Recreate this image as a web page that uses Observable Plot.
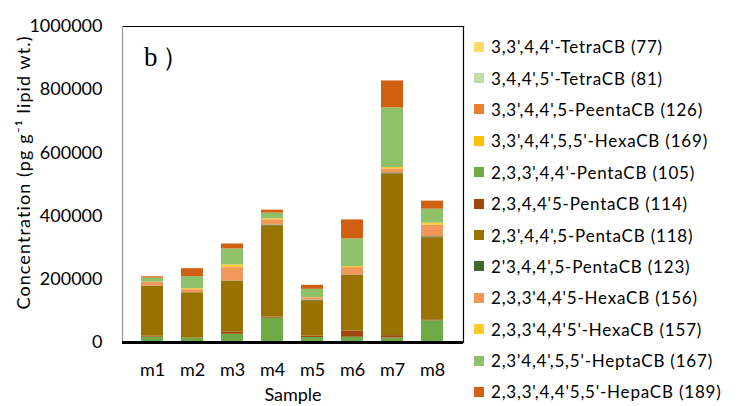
<!DOCTYPE html>
<html>
<head>
<meta charset="utf-8">
<script src="https://cdn.jsdelivr.net/npm/d3@7"></script>
<script src="https://cdn.jsdelivr.net/npm/@observablehq/plot@0.6"></script>
<style>
  html, body { margin: 0; padding: 0; background: #fff; }
  #wrap { position: relative; width: 739px; height: 406px; overflow: hidden; font-family: Lato, "Open Sans", sans-serif; }
  #legend { position: absolute; left: 474px; top: 31px; }
  .row { height: 31.4px; display: flex; align-items: center; font-size: 17px; letter-spacing: 0.8px; color: #000; white-space: nowrap; }
  .sw { width: 10px; height: 10px; margin-right: 7px; flex: none; }
  #tag { position: absolute; left: 144px; top: 39px; font-family: "Liberation Serif", serif; font-size: 27px; color: #000; letter-spacing: 4px; }
</style>
</head>
<body>
<div id="wrap"><div id="legend"></div><div id="tag">b）</div></div>
<script>
const samples = ["m1", "m2", "m3", "m4", "m5", "m6", "m7", "m8"];
const congeners = [
  "3,3',4,4'-TetraCB (77)",
  "3,4,4',5'-TetraCB (81)",
  "3,3',4,4',5-PeentaCB (126)",
  "3,3',4,4',5,5'-HexaCB (169)",
  "2,3,3',4,4'-PentaCB (105)",
  "2,3,4,4'5-PentaCB (114)",
  "2,3',4,4',5-PentaCB (118)",
  "2'3,4,4',5-PentaCB (123)",
  "2,3,3'4,4'5-HexaCB (156)",
  "2,3,3'4,4'5'-HexaCB (157)",
  "2,3'4,4',5,5'-HeptaCB (167)",
  "2,3,3',4,4'5,5'-HepaCB (189)"
];
const colors = ["#FFD966", "#BFDDA9", "#ED7D31", "#FFC000", "#6EAB46", "#9E480E", "#997300", "#43682B", "#F1975A", "#FFCA2E", "#8DC26A", "#D26012"];
// values per congener, m1..m8 (pg g-1 lipid wt.)
const v77  = [300, 400, 500, 600, 300, 500, 800, 600];
const v81  = [200, 200, 300, 400, 200, 300, 500, 400];
const v126 = [400, 500, 700, 900, 400, 800, 1200, 900];
const v169 = [100, 100, 200, 200, 100, 200, 300, 200];
const v105 = [15800, 11600, 24300, 74900, 14800, 14800, 11600, 66500];
const v114 = [3000, 1000, 7400, 3200, 4200, 20000, 7400, 3200];
const v118 = [158000, 143400, 160400, 288000, 110800, 176200, 511600, 259500];
const v123 = [800, 500, 1000, 3200, 3200, 1000, 3200, 3200];
const v156 = [11600, 9500, 42200, 16900, 7400, 23200, 12700, 36900];
const v157 = [800, 3200, 8400, 3200, 500, 3200, 4200, 6300];
const v167 = [12700, 38000, 50600, 17900, 26400, 87600, 188800, 44300];
const v189 = [4200, 25300, 15800, 9500, 12700, 60100, 85400, 25300];
const series = [v77, v81, v126, v169, v105, v114, v118, v123, v156, v157, v167, v189];
const yTicks = [0, 200000, 400000, 600000, 800000, 1000000];
const yLabel = "Concentration (pg g⁻¹ lipid wt.)";
const xLabel = "Sample";

const data = [];
samples.forEach((s, i) => {
  congeners.forEach((c, j) => data.push({sample: s, congener: c, value: series[j][i]}));
});

const font = "Lato, 'Open Sans', sans-serif";
const chart = Plot.plot({
  width: 739,
  height: 406,
  marginLeft: 122,
  marginRight: 276,
  marginTop: 26,
  marginBottom: 64,
  style: {fontFamily: font, fontSize: "18px", color: "#000", background: "transparent", overflow: "visible"},
  x: {domain: samples, padding: 0.44, label: null},
  y: {domain: [0, 1000000], label: null},
  color: {domain: congeners, range: colors},
  marks: [
    Plot.barY(data, {x: "sample", y: "value", fill: "congener"}),
    Plot.frame({anchor: "top", stroke: "#000", strokeWidth: 1.2}),
    Plot.frame({anchor: "right", stroke: "#000", strokeWidth: 1.2}),
    Plot.frame({anchor: "left", stroke: "#999", strokeWidth: 1.2}),
    Plot.ruleY([0], {stroke: "#000", strokeWidth: 3}),
    Plot.axisY({ticks: yTicks, tickFormat: d => String(d), tickSize: 0, tickPadding: 20, label: null, fontSize: 18}),
    Plot.axisX({tickSize: 0, tickPadding: 21, label: null, fontSize: 18}),
    Plot.text([yLabel], {frameAnchor: "left", textAnchor: "middle", lineAnchor: "middle", rotate: -90, dx: -98, dy: -12, fontSize: 18, fill: "#000"}),
    Plot.text([xLabel], {frameAnchor: "bottom", lineAnchor: "middle", dy: 53, fontSize: 18, fill: "#000"})
  ]
});
d3.select(chart).selectAll("text").filter(function() { return this.textContent === yLabel; }).style("letter-spacing", "1.1px");
const wrap = document.getElementById("wrap");
wrap.insertBefore(chart, wrap.firstChild);

const legend = document.getElementById("legend");
congeners.forEach((c, j) => {
  const row = document.createElement("div");
  row.className = "row";
  const sw = document.createElement("span");
  sw.className = "sw";
  sw.style.background = colors[j];
  const t = document.createElement("span");
  t.textContent = c;
  row.appendChild(sw);
  row.appendChild(t);
  legend.appendChild(row);
});
</script>
</body>
</html>
